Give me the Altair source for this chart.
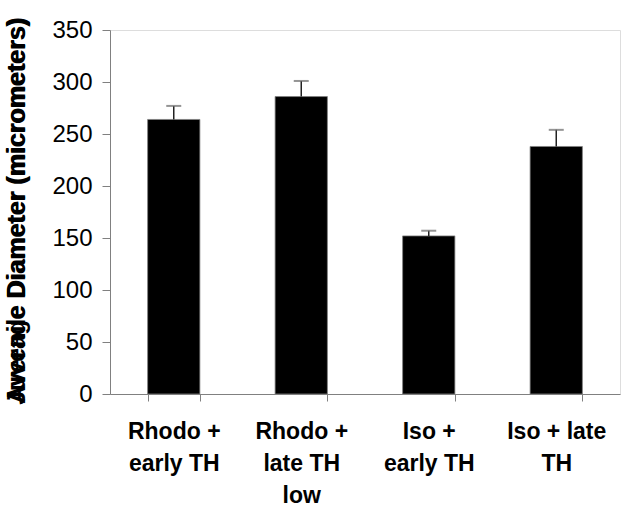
import altair as alt
import pandas as pd

categories = ["Rhodo +\nearly TH", "Rhodo +\nlate TH\nlow", "Iso +\nearly TH", "Iso + late\nTH"]
means = [264, 286, 152, 238]
errors = [13, 15, 5, 16]
title_a = "Juvenile Diameter (micrometers)"
title_b = "Average Diameter (micrometers)"

df = pd.DataFrame({"cat": categories, "mean": means, "err": errors})
df["top"] = df["mean"] + df["err"]

FONT = "Liberation Sans"
order = categories

x = alt.X("cat:N", sort=order, title=None,
          scale=alt.Scale(paddingInner=0.59, paddingOuter=0.295),
          axis=alt.Axis(labelAngle=0, tickBand="extent", labelExpr="split(datum.label, '\\n')",
                        labelFont=FONT, labelFontSize=23, labelFontWeight="bold", labelColor="black",
                        labelLineHeight=32, labelPadding=19, tickSize=7, tickColor="#808080",
                        domainColor="#808080", labelBaseline="top"))
y = alt.Y("mean:Q", title=None,
          scale=alt.Scale(domain=[0, 350], nice=False),
          axis=alt.Axis(values=[0, 50, 100, 150, 200, 250, 300, 350], grid=False,
                        labelFont=FONT, labelFontSize=24, labelColor="black", labelPadding=10,
                        tickSize=8, tickColor="#808080", domainColor="#808080"))

bars = alt.Chart(df).mark_bar(color="black", stroke="#808080", strokeWidth=0.8).encode(x=x, y=y)
stems = alt.Chart(df).mark_rule(color="#222222", strokeWidth=1.5).encode(
    x=alt.X("cat:N", sort=order), y="mean:Q", y2="top:Q")
caps = alt.Chart(df).mark_tick(color="#666666", size=15, thickness=2).encode(
    x=alt.X("cat:N", sort=order), y="top:Q")

tdf = pd.DataFrame({"t": [title_a, title_b]})
titles = alt.Chart(tdf).mark_text(angle=270, font=FONT, fontSize=25, fontWeight="bold",
                                  color="black", baseline="middle", align="center").encode(
    text="t:N", x=alt.value(-93), y=alt.value(181))

chart = alt.layer(bars, stems, caps, titles).properties(
    width=510, height=364,
    padding={"left": 110, "top": 30, "right": 2, "bottom": 115},
    autosize=alt.AutoSizeParams(type="none"),
).configure_view(stroke=None).configure(background="white")

chart.save("out.html", embed_options={"renderer": "svg", "actions": False})
